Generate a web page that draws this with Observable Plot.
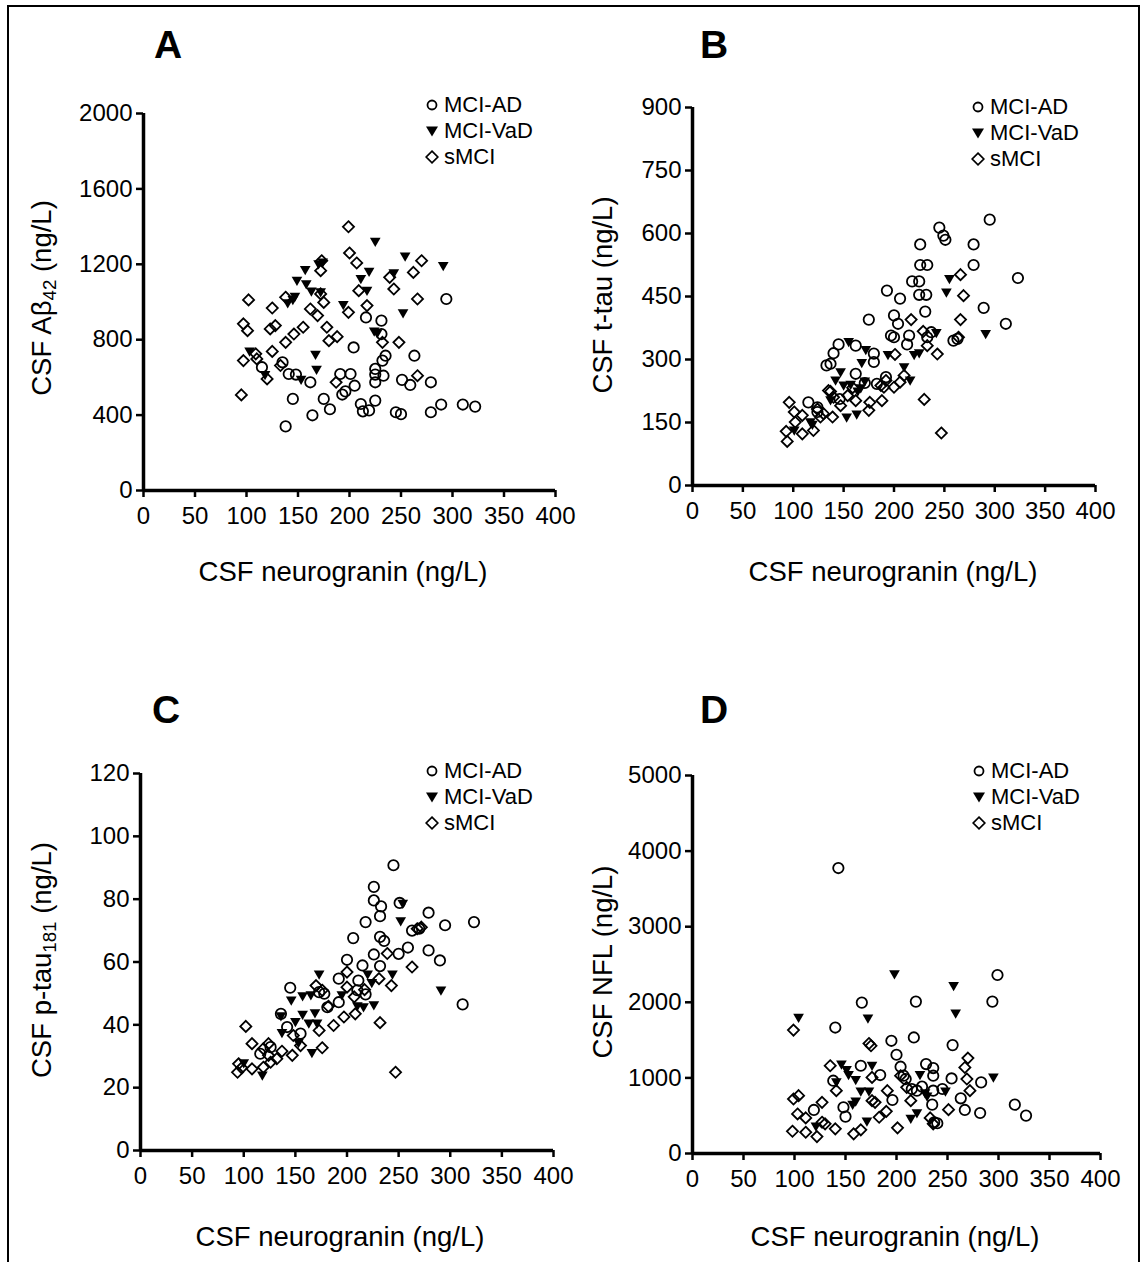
<!DOCTYPE html>
<html><head><meta charset="utf-8">
<script src="https://cdn.jsdelivr.net/npm/d3@7"></script>
<script src="https://cdn.jsdelivr.net/npm/@observablehq/plot@0.6"></script>
<style>
html,body{margin:0;padding:0;background:#fff;}
body{width:1140px;height:1262px;overflow:hidden;position:relative;font-family:"Liberation Sans",Arial,sans-serif;color:#000;}
#frame{position:absolute;left:7px;top:5px;width:1129px;height:1300px;border:2px solid #000;border-bottom:none;}
.panel{position:absolute;}
.panel svg{background:transparent !important;}
.letter{position:absolute;font-weight:bold;font-size:39px;transform:translate(-50%,-50%);}
.xlab{position:absolute;font-size:27.5px;transform:translate(-50%,-50%);white-space:nowrap;}
.ylab{position:absolute;font-size:27.5px;transform:translate(-50%,-50%) rotate(-90deg);white-space:nowrap;}
.ylab sub{font-size:0.68em;vertical-align:-0.25em;line-height:0;}
.legend{position:absolute;font-size:22px;line-height:26px;}
.legend div{display:flex;align-items:center;height:26px;}
.legend svg{margin-right:5px;}
</style></head><body>
<div id="frame"></div>
<div id="root"></div>
<script>
// ---------- data ----------
const groups = ["MCI-AD", "MCI-VaD", "sMCI"];
const xTicks = [0, 50, 100, 150, 200, 250, 300, 350, 400];
const xLabel = "CSF neurogranin (ng/L)";

const aTicks = [0, 400, 800, 1200, 1600, 2000];
const bTicks = [0, 150, 300, 450, 600, 750, 900];
const cTicks = [0, 20, 40, 60, 80, 100, 120];
const dTicks = [0, 1000, 2000, 3000, 4000, 5000];

// Panel A: Abeta42
const aAD = [[294,1016],[216,918],[231,901],[231,830],[204,759],[263,715],[235,715],[232,689],[225,645],[225,615],[233,609],[225,574],[191,618],[201,618],[251,587],[259,560],[279,574],[205,556],[196,526],[193,509],[175,486],[145,486],[225,477],[211,459],[219,425],[213,420],[181,431],[164,399],[138,340],[245,415],[250,405],[279,415],[289,456],[310,456],[322,445],[115,654],[135,680],[141,618],[148,615],[162,574]];
const aVaD = [[225,1325],[254,1246],[291,1196],[170,1205],[174,1215],[157,1175],[219,1166],[243,1157],[149,1117],[158,1099],[211,1127],[217,1065],[163,1060],[172,1056],[147,1033],[140,998],[145,1015],[194,989],[252,945],[224,848],[227,839],[103,742],[167,725],[168,645],[118,618],[153,592]];
const aSMCI = [[199,1399],[200,1260],[207,1207],[172,1166],[173,1219],[270,1219],[262,1157],[239,1131],[243,1069],[209,1060],[266,1016],[102,1011],[125,968],[138,1025],[175,998],[217,981],[199,945],[172,1043],[162,963],[169,928],[97,884],[101,848],[123,857],[128,875],[146,830],[155,866],[138,786],[178,866],[188,816],[180,795],[232,786],[248,786],[125,738],[109,725],[97,689],[110,698],[133,663],[120,592],[95,507],[187,574],[266,609]];

// Panel B: t-tau
const bAD = [[295,633],[245,614],[249,595],[251,585],[226,574],[279,574],[226,525],[233,525],[279,525],[323,494],[218,486],[225,486],[193,464],[225,454],[232,454],[206,445],[231,414],[289,423],[175,395],[200,405],[204,385],[311,385],[197,357],[200,353],[215,357],[213,336],[233,353],[237,365],[259,345],[263,349],[145,336],[140,315],[137,290],[133,286],[180,314],[180,294],[162,266],[192,258],[146,206],[115,198],[124,186],[124,175],[162,333],[171,244],[183,242]];
const bVaD = [[255,494],[252,462],[291,363],[242,365],[155,344],[172,325],[168,294],[194,313],[220,313],[225,317],[210,284],[216,252],[147,272],[142,252],[150,240],[171,250],[167,234],[164,226],[137,205],[153,164],[163,171],[117,153],[101,133],[119,147],[157,242]];
const bSMCI = [[266,502],[269,452],[266,395],[217,395],[229,367],[264,353],[243,313],[201,312],[230,205],[247,125],[137,224],[140,210],[210,262],[206,246],[200,234],[188,202],[176,198],[162,202],[154,214],[159,233],[187,238],[192,250],[130,171],[139,163],[96,198],[101,175],[109,167],[102,151],[93,129],[94,105],[109,123],[120,131],[147,190],[175,179],[124,182],[127,163],[233,333],[135,226],[190,234]];

// Panel C: p-tau181
const cAD = [[245,90.8],[226,83.9],[226,79.6],[233,77.7],[232,74.6],[251,78.8],[279,75.7],[295,71.7],[323,72.7],[218,72.7],[206,67.6],[232,68],[236,66.7],[263,70],[270,70.6],[259,64.6],[279,63.7],[250,62.6],[226,62.4],[290,60.5],[200,60.7],[215,58.9],[232,58.7],[312,46.5],[192,54.7],[211,54.1],[145,51.8],[173,50.4],[178,49.9],[192,47.2],[181,45.6],[136,43.5],[142,39.3],[155,37.2],[116,30.8],[126,32.9],[210,51],[218,49.7]];
const cVaD = [[254,78.8],[252,73.3],[291,51.2],[173,56.3],[220,56.3],[244,56.3],[224,53.6],[146,48],[157,49.4],[165,49.7],[195,49.7],[226,46.5],[216,45.9],[210,46.2],[136,43],[157,43.5],[169,44],[150,41.2],[163,40.7],[171,40.7],[137,37.7],[153,34.5],[166,31.3],[100,28.1],[118,24.2]];
const cSMCI = [[268,70.6],[272,71.1],[239,62.7],[263,58.4],[243,52.5],[231,54.7],[200,56.8],[170,52.5],[176,51],[200,52],[217,51.2],[182,45.9],[197,42.5],[208,43.5],[232,40.7],[187,39.8],[173,38.2],[148,36.6],[102,39.5],[108,34],[119,32.4],[124,34],[137,31.6],[147,30.3],[132,29.2],[176,32.7],[124,30.3],[126,28.1],[95,27.6],[98,26.3],[94,24.9],[108,26],[119,26.5],[247,24.9],[207,48.9],[155,33.4]];

// Panel D: NFL
const dAD = [[143,3776],[166,1996],[140,1666],[219,2009],[294,2009],[299,2361],[195,1491],[217,1535],[255,1434],[200,1306],[165,1161],[204,1148],[229,1183],[236,1130],[184,1038],[207,1029],[209,985],[236,1029],[254,993],[283,941],[138,963],[215,853],[220,831],[225,884],[236,831],[245,853],[196,708],[235,646],[263,730],[267,576],[282,536],[316,646],[327,501],[148,611],[150,488],[119,576],[237,413],[240,400]];
const dVaD = [[104,1807],[172,1798],[198,2383],[256,2229],[258,1864],[295,1016],[146,1191],[151,1117],[153,1051],[160,985],[176,1174],[141,954],[165,831],[173,831],[157,656],[160,699],[171,435],[121,369],[214,471],[220,545],[223,1051],[228,808],[230,765],[248,831]];
const dSMCI = [[99,1632],[173,1455],[175,1425],[270,1262],[267,1138],[135,1161],[269,985],[176,1006],[204,1029],[141,831],[191,831],[210,875],[272,831],[99,721],[104,765],[127,677],[176,699],[179,677],[214,699],[103,523],[111,471],[127,413],[130,392],[140,326],[98,294],[111,281],[122,224],[158,260],[165,313],[183,479],[190,558],[201,339],[251,580],[233,471],[236,392]];

// ---------- layout ----------
const panels = [
  {letter:"A", ad:aAD, vad:aVaD, smci:aSMCI, yTicks:aTicks, ylab:'CSF A\u03b2<sub>42</sub> (ng/L)',
   left:0, top:0, width:580, height:600, mL:143, mR:25, mT:113, mB:110,
   letterPos:[168,45], xlabPos:[343,572], ylabPos:[42,298], legendPos:[425,92]},
  {letter:"B", ad:bAD, vad:bVaD, smci:bSMCI, yTicks:bTicks, ylab:'CSF t-tau (ng/L)',
   left:560, top:0, width:580, height:600, mL:132, mR:45, mT:107, mB:115,
   letterPos:[714,45], xlabPos:[893,572], ylabPos:[603,295], legendPos:[971,94]},
  {letter:"C", ad:cAD, vad:cVaD, smci:cSMCI, yTicks:cTicks, ylab:'CSF p-tau<sub>181</sub> (ng/L)',
   left:0, top:640, width:580, height:620, mL:140, mR:27, mT:133, mB:110,
   letterPos:[166,710], xlabPos:[340,1237], ylabPos:[42,960], legendPos:[425,758]},
  {letter:"D", ad:dAD, vad:dVaD, smci:dSMCI, yTicks:dTicks, ylab:'CSF NFL (ng/L)',
   left:560, top:640, width:580, height:620, mL:132, mR:40, mT:135, mB:107,
   letterPos:[714,710], xlabPos:[895,1237], ylabPos:[603,962], legendPos:[972,758]}
];

const root = document.getElementById("root");
const toRows = (arr) => arr.map(([x, y]) => ({x, y}));

const legendSyms = [
  '<svg width="14" height="14"><circle cx="7" cy="7" r="4.5" fill="none" stroke="#000" stroke-width="1.8"/></svg>',
  '<svg width="14" height="14"><path d="M1,2.5 L13,2.5 L7,12.5 Z" fill="#000"/></svg>',
  '<svg width="14" height="14"><path d="M7,1.2 L12.8,7 L7,12.8 L1.2,7 Z" fill="none" stroke="#000" stroke-width="1.7"/></svg>'
];

for (const p of panels) {
  const yMax = p.yTicks[p.yTicks.length - 1];
  const chart = Plot.plot({
    width: p.width, height: p.height,
    marginLeft: p.mL, marginRight: p.mR, marginTop: p.mT, marginBottom: p.mB,
    style: {fontFamily: '"Liberation Sans", Arial, sans-serif', color: "#000", background: "transparent", overflow: "visible"},
    x: {domain: [0, 400]},
    y: {domain: [0, yMax]},
    marks: [
      Plot.axisX({ticks: xTicks, tickSize: 7, tickPadding: 9, fontSize: 24, strokeWidth: 2.5, tickFormat: d => String(d), label: null}),
      Plot.axisY({ticks: p.yTicks, tickSize: 7, tickPadding: 4, fontSize: 24, strokeWidth: 2.5, tickFormat: d => String(d), label: null}),
      Plot.ruleX([0], {stroke: "#000", strokeWidth: 3.5}),
      Plot.ruleY([0], {stroke: "#000", strokeWidth: 3.5}),
      Plot.dot(toRows(p.smci), {x: "x", y: "y", symbol: "diamond2", r: 5, fill: "none", stroke: "#000", strokeWidth: 1.8}),
      Plot.dot(toRows(p.ad), {x: "x", y: "y", symbol: "circle", r: 5.2, fill: "none", stroke: "#000", strokeWidth: 1.8}),
      Plot.dot(toRows(p.vad), {x: "x", y: "y", symbol: "triangle2", rotate: 180, r: 5.1, fill: "#000", stroke: "none"})
    ]
  });
  const wrap = document.createElement("div");
  wrap.className = "panel";
  wrap.style.left = p.left + "px";
  wrap.style.top = p.top + "px";
  wrap.appendChild(chart);
  root.appendChild(wrap);

  const letter = document.createElement("div");
  letter.className = "letter";
  letter.textContent = p.letter;
  letter.style.left = p.letterPos[0] + "px"; letter.style.top = p.letterPos[1] + "px";
  root.appendChild(letter);

  const xl = document.createElement("div");
  xl.className = "xlab";
  xl.textContent = xLabel;
  xl.style.left = p.xlabPos[0] + "px"; xl.style.top = p.xlabPos[1] + "px";
  root.appendChild(xl);

  const yl = document.createElement("div");
  yl.className = "ylab";
  yl.innerHTML = p.ylab;
  yl.style.left = p.ylabPos[0] + "px"; yl.style.top = p.ylabPos[1] + "px";
  root.appendChild(yl);

  const lg = document.createElement("div");
  lg.className = "legend";
  lg.style.left = p.legendPos[0] + "px"; lg.style.top = p.legendPos[1] + "px";
  lg.innerHTML = groups.map((g, i) => `<div>${legendSyms[i]}<span>${g}</span></div>`).join("");
  root.appendChild(lg);
}
</script></body></html>
